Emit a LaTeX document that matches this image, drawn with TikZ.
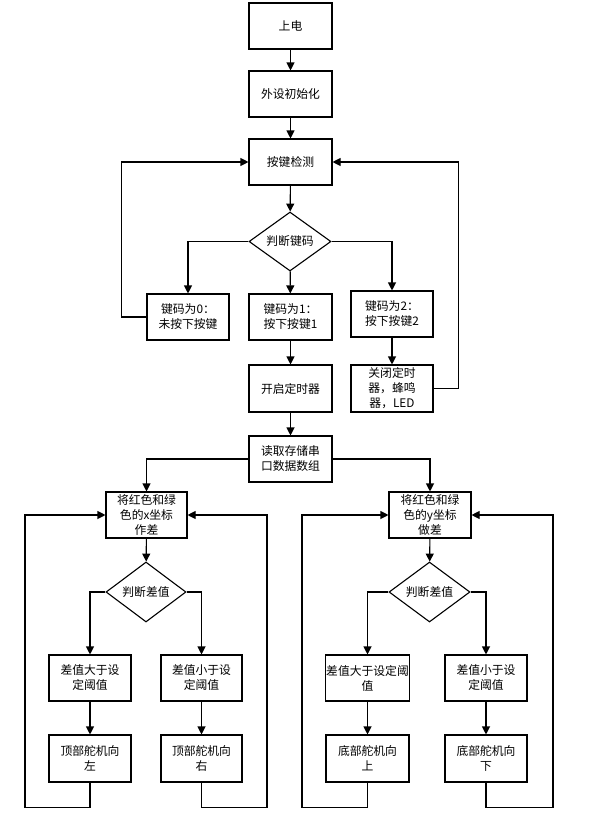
\documentclass[tikz,border=0pt]{standalone}
\usepackage{fontspec}
\setmainfont{Noto Sans CJK SC}
\usetikzlibrary{shapes,arrows,positioning,arrows.meta}
\tikzset{
  box/.style={draw,line width=1.1pt,minimum width=83pt,minimum height=46pt,inner sep=1pt,align=center,font=\fontsize{11.8}{15}\selectfont},
  choice/.style={draw,diamond,line width=1.1pt,minimum width=82pt,minimum height=59pt,aspect=1.4,inner sep=0pt,font=\fontsize{11.8}{14}\selectfont},
  arr/.style={line width=1.1pt,-{Triangle[length=8pt,width=8pt]}},
  ln/.style={line width=1.1pt}
}

\begin{document}
\begin{tikzpicture}[x=1pt,y=-1pt]
        \useasboundingbox[fill=white] (0,0) rectangle (589,819);
        % main column
        \node[box] (pwr) at (290.5,26) {上电};
        \node[box] (init) at (290.5,94) {外设初始化};
        \node[box] (keyscan) at (290.5,162) {按键检测};
        \node[choice] (judgekey) at (290,241.5) {判断键码};
        \node[box,minimum width=82pt] (key0) at (188,317) {键码为0：\\未按下按键};
        \node[box] (key1) at (290.5,317) {键码为1：\\按下按键1};
        \node[box,minimum width=82pt] (key2) at (392,314) {键码为2：\\按下按键2};
        \node[box,minimum height=47pt] (timeron) at (290.5,388.5) {开启定时器};
        \node[box,minimum width=82pt,minimum height=47pt] (timeroff) at (392,388.5) {关闭定时\\器，蜂鸣\\器，LED};
        \node[box] (readbuf) at (290.5,459) {读取存储串\\口数据数组};
        % x branch
        \node[box,minimum width=81pt] (xdiff) at (146.5,515) {将红色和绿\\色的x坐标\\作差};
        \node[choice,minimum width=80pt,minimum height=60pt] (xjudge) at (146,592) {判断差值};
        \node[box,minimum width=82pt] (xbig) at (90,678) {差值大于设\\定阈值};
        \node[box,minimum width=81pt] (xsmall) at (201.5,678) {差值小于设\\定阈值};
        \node[box,minimum width=82pt,minimum height=47pt] (xleft) at (90,758.5) {顶部舵机向\\左};
        \node[box,minimum width=81pt,minimum height=47pt] (xright) at (201.5,758.5) {顶部舵机向\\右};
        % y branch
        \node[box,minimum width=82pt] (ydiff) at (430,515) {将红色和绿\\色的y坐标\\做差};
        \node[choice,minimum width=81pt,minimum height=60pt] (yjudge) at (429.5,592) {判断差值};
        \node[box] (ybig) at (367.5,678) {差值大于设定阈\\值};
        \node[box,minimum width=82pt] (ysmall) at (486,678) {差值小于设\\定阈值};
        \node[box,minimum height=47pt] (yup) at (367.5,758.5) {底部舵机向\\上};
        \node[box,minimum width=82pt,minimum height=47pt] (ydown) at (486,758.5) {底部舵机向\\下};

        % arrows
        \draw[arr] (pwr) -- (init);
        \draw[arr] (init) -- (keyscan);
        \draw[arr] (keyscan) -- (judgekey);
        \draw[arr] (judgekey.west) -| (key0.north);
        \draw[arr] (judgekey) -- (key1);
        \draw[arr] (judgekey.east) -| (key2.north);
        \draw[arr] (key0.west) -- ++(-25,0) |- (keyscan.west);
        \draw[arr] (key1) -- (timeron);
        \draw[arr] (key2) -- (timeroff);
        \draw[arr] (timeroff.east) -- ++(25,0) |- (keyscan.east);
        \draw[arr] (timeron) -- (readbuf);
        \draw[arr] (readbuf.west) -| (xdiff.north);
        \draw[arr] (readbuf.east) -| (ydiff.north);

        \draw[arr] (xdiff) -- (xjudge);
        \draw[arr] (xjudge.west) -| (xbig.north);
        \draw[arr] (xjudge.east) -| (xsmall.north);
        \draw[arr] (xbig) -- (xleft);
        \draw[arr] (xsmall) -- (xright);
        \draw[arr] (xleft.south) -- ++(0,25) -- ++(-65,0) |- (xdiff.west);
        \draw[arr] (xright.south) -- ++(0,25) -- ++(65.5,0) |- (xdiff.east);

        \draw[arr] (ydiff) -- (yjudge);
        \draw[arr] (yjudge.west) -| (ybig.north);
        \draw[arr] (yjudge.east) -| (ysmall.north);
        \draw[arr] (ybig) -- (yup);
        \draw[arr] (ysmall) -- (ydown);
        \draw[arr] (yup.south) -- ++(0,25) -- ++(-65.5,0) |- (ydiff.west);
        \draw[arr] (ydown.south) -- ++(0,25) -- ++(67,0) |- (ydiff.east);
    \end{tikzpicture}
\end{document}
